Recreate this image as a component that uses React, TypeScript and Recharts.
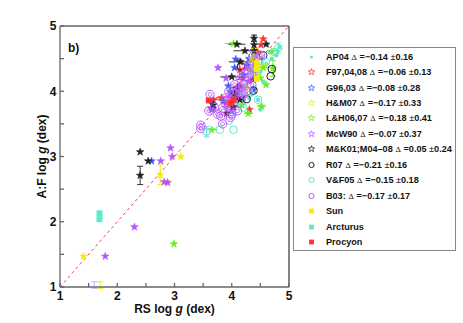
import { ScatterChart, Scatter, XAxis, YAxis, ReferenceLine, ErrorBar, Legend, Label } from 'recharts';

// [x (RS log g), y (A:F log g), x error, y error ([down, up] when uneven)]
type Pt = [number, number, number?, (number | [number, number])?];

const ap04: Pt[] = [
  [4.84, 4.68], [4.8, 4.62], [4.78, 4.55], [4.62, 4.72], [4.66, 4.6], [4.55, 4.5], [4.6, 4.42],
  [4.5, 4.3], [4.45, 4.2], [4.55, 4.15], [4.4, 4.05], [4.35, 3.95], [4.46, 3.87], [4.3, 3.9],
  [4.2, 3.85], [4.25, 4.1], [4.15, 3.95], [4.1, 3.8], [4.38, 4.4], [4.7, 4.5], [4.5, 3.72], [4.05, 3.65],
];
const f97: Pt[] = [
  [4.55, 4.8], [4.51, 4.71], [4.14, 4.33, 0, 0.15], [3.68, 3.87, 0.1, 0], [3.82, 3.9, 0.1, 0],
  [4.03, 3.98], [3.64, 3.74], [4.14, 4.08], [4.37, 4.5], [4.31, 3.72], [4.0, 3.75], [3.9, 3.82, 0.1, 0],
  [4.2, 4.2], [4.45, 4.6], [4.1, 3.9],
];
const g96: Pt[] = [
  [4.07, 4.49], [4.05, 4.36], [3.94, 4.08], [3.67, 3.8], [3.66, 3.72], [4.38, 4.02], [4.27, 4.4],
  [2.6, 2.93], [3.98, 3.99], [4.2, 4.25], [3.85, 3.85], [4.3, 4.5],
];
const hm07: Pt[] = [
  [3.11, 3.0], [2.75, 2.72, 0, 0.15], [2.88, 2.6], [1.41, 1.47], [1.7, 0.98, 0, [0, 0.1]],
  [4.35, 4.5], [4.45, 4.25], [4.25, 4.05], [4.55, 4.4], [4.4, 4.65],
];
const lh06: Pt[] = [
  [4.03, 4.73, 0.15, 0], [4.7, 4.61], [4.72, 4.35, 0, 0.12], [4.29, 3.66, 0.08, 0], [4.18, 3.79],
  [4.52, 3.77, 0.08, 0], [3.65, 3.41, 0.1, 0], [4.5, 4.2], [2.99, 1.66], [4.4, 4.55],
  [4.55, 4.36, 0.1, 0], [4.6, 4.1], [4.35, 4.3],
];
const mcw90: Pt[] = [
  [3.76, 4.36], [2.76, 2.93], [2.93, 3.13], [2.96, 3.0], [2.82, 2.61], [2.88, 2.6], [2.3, 1.92],
  [1.79, 1.47], [1.6, 0.98, 0, [0, 0.1]], [3.96, 3.91], [4.1, 4.0], [4.2, 3.9], [3.9, 4.2], [4.3, 4.15],
  [4.0, 3.7], [4.25, 4.35],
];
const mk01: Pt[] = [
  [2.4, 3.07], [2.4, 2.71, 0, 0.14], [2.54, 2.93], [4.09, 4.72, 0.15, 0], [4.39, 4.81, 0, 0.05],
  [4.39, 4.71], [4.6, 4.72], [4.39, 4.62], [4.23, 4.62, 0.2, 0], [4.0, 4.22, 0.2, 0],
  [4.1, 4.06, 0.15, 0], [4.03, 3.76, 0.15, 0], [3.91, 3.66], [3.68, 3.79], [4.14, 3.87, 0.1, 0],
  [4.37, 4.18], [4.15, 4.45, 0.2, 0], [4.05, 3.95, 0.1, 0],
];
const r07: Pt[] = [[4.68, 4.23], [4.7, 4.34], [4.16, 4.38], [4.38, 4.01], [4.26, 3.88], [4.55, 4.55]];
const vf05: Pt[] = [
  [4.03, 3.41], [3.79, 3.41], [3.56, 3.38, 0, 0.08], [4.81, 4.66, 0, 0.08], [4.75, 4.6], [4.46, 3.87],
  [4.3, 4.0], [4.6, 4.45], [4.2, 3.75], [3.95, 3.55], [4.4, 4.3],
];
const b03: Pt[] = [
  [3.62, 3.95], [3.46, 3.48], [3.46, 3.43], [3.81, 3.62], [3.84, 3.5], [3.7, 3.75], [3.75, 3.65],
  [3.85, 3.7], [3.9, 3.8], [3.95, 3.75], [4.0, 3.85], [4.05, 3.9], [4.1, 4.0], [4.15, 4.05],
  [4.2, 4.1], [4.25, 4.0], [4.3, 4.2], [4.35, 4.25], [4.2, 3.95], [4.1, 3.7], [4.0, 3.65],
  [4.3, 4.4], [4.4, 4.35], [4.45, 4.45], [4.5, 4.55], [4.35, 4.1], [4.25, 4.3], [3.95, 4.0],
  [3.6, 3.7], [3.9, 3.9], [4.15, 4.2], [4.05, 4.1], [4.38, 4.55], [3.98, 3.6],
];
const sun: Pt[] = [[4.44, 4.43], [4.44, 4.34], [4.44, 4.19]];
const arcturus: Pt[] = [[1.69, 2.13], [1.69, 2.04]];
const procyon: Pt[] = [[3.99, 3.82], [4.03, 3.87], [3.6, 3.86]];

const legendNames = ['AP04', 'F97,04,08', 'G96,03', 'H&M07', 'L&H06,07', 'McW90', 'M&K01;M04\u201308', 'R07', 'V&F05', 'B03:', 'Sun', 'Arcturus', 'Procyon'];
const legendMean = ['\u22120.14', '\u22120.06', '\u22120.08', '\u22120.17', '\u22120.18', '\u22120.07', '0.05', '\u22120.21', '\u22120.15', '\u22120.17'];
const legendSigma = ['0.16', '0.13', '0.28', '0.33', '0.41', '0.37', '0.24', '0.16', '0.18', '0.17'];

const ticks = [1, 1.5, 2, 2.5, 3, 3.5, 4, 4.5, 5];

const CYAN = '#5fe8d0';
const RED = '#ff3030';
const BLUE = '#3a5cff';
const YELLOW = '#f0f000';
const GREEN = '#66ee22';
const PURPLE = '#b455ff';
const BLACK = '#222222';
const AXIS = '#666666';

const toRows = (pts: Pt[]) => pts.map(([x, y, ex = 0, ey = 0]) => ({ x, y, ex, ey }));

const starPath = (cx: number, cy: number, r: number) => {
  let d = '';
  for (let i = 0; i < 10; i++) {
    const rr = i % 2 ? r * 0.42 : r;
    const a = -Math.PI / 2 + (i * Math.PI) / 5;
    d += (i ? 'L' : 'M') + (cx + rr * Math.cos(a)).toFixed(2) + ',' + (cy + rr * Math.sin(a)).toFixed(2);
  }
  return d + 'Z';
};

type Kind = 'dot' | 'star' | 'circle' | 'ring2' | 'square';

const Marker = ({ kind, color, cx, cy, small }: { kind: Kind; color: string; cx: number; cy: number; small?: boolean }) => {
  if (kind === 'dot') return <circle cx={cx} cy={cy} r={small ? 1.5 : 2.2} fill={color} />;
  if (kind === 'star')
    return small
      ? <path d={starPath(cx, cy, 3.3)} fill="none" stroke={color} strokeWidth={0.8} />
      : <path d={starPath(cx, cy, 4)} fill={color} stroke={color} strokeWidth={0.5} strokeLinejoin="round" />;
  if (kind === 'circle') return <circle cx={cx} cy={cy} r={small ? 2.6 : 3.8} fill="none" stroke={color} strokeWidth={1} />;
  if (kind === 'ring2')
    return (
      <g>
        <circle cx={cx} cy={cy} r={small ? 2.6 : 4.2} fill="none" stroke={color} strokeWidth={1} />
        {!small && <circle cx={cx} cy={cy} r={1.9} fill="none" stroke={color} strokeWidth={0.9} />}
      </g>
    );
  const h = small ? 2.4 : 3;
  return <rect x={cx - h} y={cy - h} width={2 * h} height={2 * h} fill={color} />;
};

const series: { key: string; data: Pt[]; kind: Kind; color: string; err?: string }[] = [
  { key: 'ap04', data: ap04, kind: 'dot', color: CYAN },
  { key: 'f97', data: f97, kind: 'star', color: RED, err: RED },
  { key: 'g96', data: g96, kind: 'star', color: BLUE },
  { key: 'hm07', data: hm07, kind: 'star', color: YELLOW, err: YELLOW },
  { key: 'lh06', data: lh06, kind: 'star', color: GREEN, err: GREEN },
  { key: 'mcw90', data: mcw90, kind: 'star', color: PURPLE, err: '#d9a8ff' },
  { key: 'mk01', data: mk01, kind: 'star', color: BLACK, err: '#333' },
  { key: 'r07', data: r07, kind: 'circle', color: BLACK },
  { key: 'vf05', data: vf05, kind: 'circle', color: CYAN, err: CYAN },
  { key: 'b03', data: b03, kind: 'ring2', color: '#c05cff' },
  { key: 'sun', data: sun, kind: 'square', color: YELLOW },
  { key: 'arcturus', data: arcturus, kind: 'square', color: CYAN },
  { key: 'procyon', data: procyon, kind: 'square', color: RED },
];

const font = '"Liberation Sans", Arial, sans-serif';

const LegendBox = () => (
  <div
    style={{
      width: 161,
      height: 201,
      border: '1px solid #888',
      background: '#fff',
      boxSizing: 'content-box',
      paddingTop: 1,
      fontFamily: font,
      fontSize: 9.1,
      fontWeight: 'bold',
      color: '#111',
    }}
  >
    {series.map((s, i) => (
      <div key={s.key} style={{ height: 15.45, display: 'flex', alignItems: 'center', whiteSpace: 'nowrap' }}>
        <svg width={32} height={12} style={{ flex: 'none' }}>
          <Marker kind={s.kind} color={s.color} cx={17.5} cy={6} small />
        </svg>
        <span>
          {legendNames[i]}
          {i < legendMean.length && (
            <>
              {' '}
              <span style={{ fontWeight: 'normal', fontFamily: '"DejaVu Serif", serif', fontSize: 8 }}>{'\u0394'}</span>
              {' =' + legendMean[i] + ' '}
              <span style={{ fontWeight: 'normal' }}>{'\u00b1'}</span>
              {legendSigma[i]}
            </>
          )}
        </span>
      </div>
    ))}
  </div>
);

const XLabel = (props: any) => {
  const { x, y, width } = props.viewBox;
  return (
    <text x={x + width / 2} y={y + 26} textAnchor="middle" fontFamily={font} fontSize={12} fontWeight="bold" fill="#111">
      RS log <tspan fontStyle="italic">g</tspan> (dex)
    </text>
  );
};

const YLabel = (props: any) => {
  const { y, height } = props.viewBox;
  const cy = y + height / 2;
  return (
    <text x={42} y={cy} transform={`rotate(-90 42 ${cy})`} textAnchor="middle" dominantBaseline="central" fontFamily={font} fontSize={12} fontWeight="bold" fill="#111">
      A:F log <tspan fontStyle="italic">g</tspan> (dex)
    </text>
  );
};

const intLabel = (v: number) => (Number.isInteger(v) ? String(v) : '');
const tickStyle = { fontSize: 12, fontWeight: 'bold', fill: '#111', fontFamily: font };

export default function App() {
  return (
    <div style={{ position: 'relative', width: 463, height: 323, background: '#fff' }}>
      <style>{'body{margin:0}'}</style>
      <ScatterChart width={463} height={323} margin={{ top: 25, right: 170, bottom: 0, left: 0 }}>
        <XAxis
          xAxisId="b"
          type="number"
          dataKey="x"
          domain={[1, 5]}
          ticks={ticks}
          allowDataOverflow
          height={36}
          tickSize={-4}
          tickMargin={8}
          tickFormatter={intLabel}
          tick={tickStyle}
          stroke={AXIS}
          strokeWidth={1.3}
          interval={0}
        >
          <Label content={XLabel} />
        </XAxis>
        <XAxis
          xAxisId="t"
          orientation="top"
          type="number"
          domain={[1, 5]}
          ticks={ticks}
          height={1}
          tickSize={-4}
          tickFormatter={() => ''}
          stroke={AXIS}
          strokeWidth={1.3}
          interval={0}
        />
        <YAxis
          yAxisId="l"
          type="number"
          dataKey="y"
          domain={[1, 5]}
          ticks={ticks}
          allowDataOverflow
          width={60}
          tickSize={-4}
          tickMargin={7.5}
          tickFormatter={intLabel}
          tick={tickStyle}
          stroke={AXIS}
          strokeWidth={1.3}
          interval={0}
        >
          <Label content={YLabel} />
        </YAxis>
        <YAxis
          yAxisId="r"
          orientation="right"
          type="number"
          domain={[1, 5]}
          ticks={ticks}
          width={4}
          tickSize={-4}
          tickFormatter={() => ''}
          stroke={AXIS}
          strokeWidth={1.6}
          interval={0}
        />
        <ReferenceLine
          xAxisId="b"
          yAxisId="l"
          segment={[{ x: 1, y: 1 }, { x: 5, y: 5 }]}
          stroke="#ff4040"
          strokeDasharray="3 3"
          strokeWidth={1}
        />
        {series.map((s) => (
          <Scatter
            key={s.key}
            name={s.key}
            xAxisId="b"
            yAxisId="l"
            data={toRows(s.data)}
            isAnimationActive={false}
            shape={(p: any) => (p.payload && p.payload.y < 1 ? <g /> : <Marker kind={s.kind} color={s.color} cx={p.cx} cy={p.cy} />)}
          >
            {s.err && <ErrorBar dataKey="ex" direction="x" width={0} stroke={s.err} strokeWidth={1} />}
            {s.err && <ErrorBar dataKey="ey" direction="y" width={3} stroke={s.err} strokeWidth={1} />}
          </Scatter>
        ))}
        <Legend
          layout="horizontal"
          verticalAlign="middle"
          align="center"
          content={() => <LegendBox />}
          wrapperStyle={{ position: 'absolute', left: 293, top: 47, width: 163, height: 204 }}
        />
      </ScatterChart>
      <div style={{ position: 'absolute', left: 68, top: 41, fontFamily: font, fontSize: 12, fontWeight: 'bold', color: '#111' }}>
        b)
      </div>
    </div>
  );
}
